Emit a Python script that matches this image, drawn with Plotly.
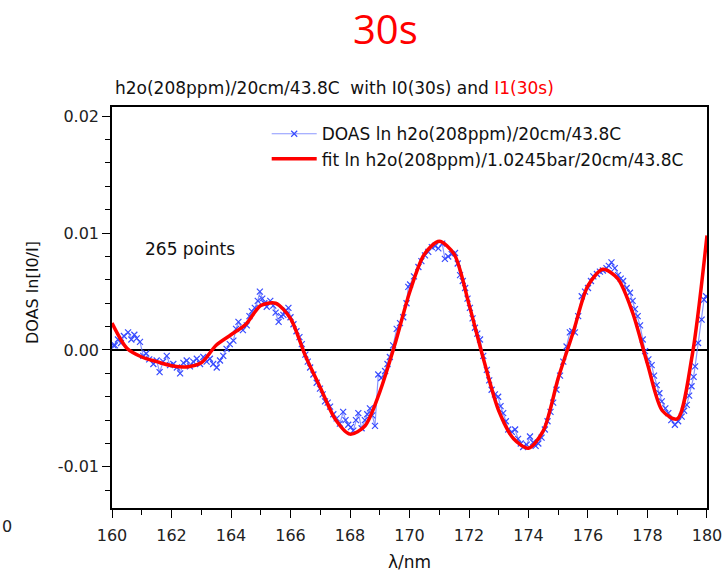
import numpy as np
import plotly.graph_objects as go

# ---- data (values in units of 1e-3) ----
fit_wl = [160.0, 160.5, 161.0, 161.5, 162.0, 162.5, 163.0, 163.5, 164.0, 164.5,
          165.0, 165.5, 166.0, 166.5, 167.0, 167.5, 168.0, 168.5, 169.0, 169.5,
          170.0, 170.5, 171.0, 171.5, 172.0, 172.5, 173.0, 173.5, 174.0, 174.5,
          175.0, 175.5, 176.0, 176.5, 177.0, 177.5, 178.0, 178.5, 179.0, 179.5, 180.0]
fit_val = [2.3, 0.15, -0.6, -1.0, -1.35, -1.45, -1.1, 0.4, 1.3, 2.2,
           3.8, 4.0, 2.7, -0.5, -3.2, -5.9, -7.2, -6.5, -3.6, 0.4,
           4.9, 8.2, 9.3, 8.2, 3.9, -0.9, -5.2, -7.6, -8.4, -6.9,
           -2.4, 1.5, 5.5, 6.9, 6.1, 3.2, -1.2, -5.2, -5.9, -0.5, 9.8]

doas_wl = [160.05, 160.1, 160.2, 160.3, 160.4, 160.54, 160.65, 160.75, 160.83, 160.94,
           161.05, 161.15, 161.25, 161.39, 161.5, 161.6, 161.72, 161.84, 161.95, 162.06,
           162.18, 162.29, 162.4, 162.51, 162.62, 162.73, 162.85, 162.96, 163.07, 163.18,
           163.29, 163.4, 163.52, 163.63, 163.74, 163.85, 163.96, 164.08, 164.17, 164.25,
           164.4, 164.53, 164.62, 164.7, 164.8, 164.9, 164.97, 165.05, 165.12, 165.2,
           165.32, 165.42, 165.5, 165.6, 165.68, 165.76, 165.85, 165.93, 166.0, 166.1,
           166.2, 166.3, 166.38, 166.5, 166.58, 166.66, 166.77, 166.88, 166.99, 167.08,
           167.16, 167.25, 167.33, 167.44, 167.55, 167.66, 167.77, 167.85, 167.94, 168.03,
           168.11, 168.2, 168.28, 168.39, 168.5, 168.58, 168.67, 168.75, 168.84, 168.95,
           169.05, 169.18, 169.26, 169.34, 169.45, 169.57, 169.68, 169.79, 169.9, 169.96,
           170.02, 170.15, 170.3, 170.4, 170.52, 170.63, 170.75, 170.86, 170.97, 171.1,
           171.19, 171.3, 171.42, 171.53, 171.62, 171.7, 171.79, 171.87, 171.95, 172.03,
           172.12, 172.2, 172.28, 172.37, 172.48, 172.6, 172.68, 172.76, 172.87, 172.98,
           173.06, 173.15, 173.24, 173.32, 173.44, 173.55, 173.65, 173.74, 173.82, 173.94,
           174.05, 174.15, 174.24, 174.33, 174.44, 174.55, 174.64, 174.74, 174.83, 174.94,
           175.06, 175.17, 175.28, 175.39, 175.47, 175.56, 175.67, 175.79, 175.9, 176.0,
           176.1, 176.18, 176.3, 176.4, 176.5, 176.62, 176.7, 176.79, 176.9, 177.01,
           177.1, 177.18, 177.3, 177.41, 177.5, 177.58, 177.67, 177.75, 177.84, 177.92,
           178.03, 178.14, 178.22, 178.31, 178.4, 178.48, 178.6, 178.7, 178.8, 178.92,
           179.03, 179.15, 179.23, 179.32, 179.4, 179.48, 179.55, 179.6, 179.7, 179.82,
           179.9, 179.97]
doas_val = [0.4, 0.4, 0.9, 0.6, 1.2, 1.5, 0.9, 1.3, 1.0, 0.7,
            -0.5, -0.3, -0.8, -1.2, -0.9, -1.9, -1.0, -0.5, -1.3, -1.2,
            -1.5, -2.0, -1.1, -0.9, -1.4, -1.0, -0.75, -1.2, -0.6, -1.0,
            -0.75, -1.2, -1.5, -0.9, -0.5, 0.1, 0.5, 0.8, 1.8, 2.4,
            1.7, 2.1, 2.9, 3.3, 3.6, 4.2, 5.0, 4.4, 4.0, 3.7,
            4.2, 3.8, 3.2, 2.4, 2.9, 3.0, 3.4, 3.6, 2.8, 2.2,
            1.6, 1.1, 0.5, -0.4, -1.0, -1.5, -2.1, -2.8, -3.3, -3.8,
            -4.4, -4.5, -4.85, -5.5, -5.85, -6.3, -5.3, -6.0, -6.4, -6.6,
            -6.9, -6.0, -5.4, -6.7, -6.0, -5.5, -5.0, -5.6, -6.5, -2.1,
            -2.4, -1.8, -1.2, -0.6, 0.4, 1.8, 2.3, 2.8, 4.0, 5.4,
            5.6, 6.3, 7.1, 7.6, 8.1, 8.4, 8.8, 8.9, 8.7, 9.1,
            7.8, 8.0, 8.2, 8.3, 7.4, 6.4, 5.9, 5.3, 4.4, 3.6,
            2.7, 1.9, 1.4, 0.9, -0.5, -1.7, -2.6, -3.4, -3.8, -4.0,
            -4.8, -5.4, -6.1, -6.8, -7.0, -6.8, -7.6, -8.0, -8.3, -8.1,
            -7.4, -7.9, -8.2, -8.0, -7.5, -6.8, -6.1, -5.3, -4.5, -3.4,
            -2.2, -1.0, 0.3, 1.5, 1.6, 1.5, 2.9, 4.6, 5.0, 5.3,
            5.9, 6.3, 6.5, 6.7, 6.8, 7.0, 7.2, 7.5, 7.0, 6.4,
            6.1, 5.9, 5.3, 4.9, 4.2, 3.5, 2.9, 2.1, 0.9, -0.1,
            -0.8, -1.3, -2.2, -3.0, -3.7, -4.4, -5.0, -5.4, -6.0, -6.4,
            -6.1, -5.7, -5.2, -4.7, -3.9, -3.1, -2.3, -1.4, 0.6, 2.6,
            4.3, 4.6]

x_ticks = [160, 162, 164, 166, 168, 170, 172, 174, 176, 178, 180]
y_ticks = [-0.01, 0.00, 0.01, 0.02]
y_tick_text = ["-0.01", "0.00", "0.01", "0.02"]

FONT = "DejaVu Sans"

fig = go.Figure()
fig.add_trace(go.Scatter(
    x=doas_wl, y=[v * 1e-3 for v in doas_val],
    mode="lines+markers",
    name="DOAS ln h2o(208ppm)/20cm/43.8C",
    line=dict(color="rgba(110,125,255,0.8)", width=1.2),
    marker=dict(symbol="x-thin", size=6, line=dict(width=1.2, color="rgb(55,75,255)")),
))
fig.add_trace(go.Scatter(
    x=fit_wl, y=[v * 1e-3 for v in fit_val],
    mode="lines",
    name="fit ln h2o(208ppm)/1.0245bar/20cm/43.8C",
    line=dict(color="#ff0000", width=3.5, shape="spline", smoothing=0.8),
))

axis_common = dict(
    showline=True, linecolor="black", linewidth=1.5, mirror=True, automargin=False,
    showgrid=False, ticks="outside", ticklen=8, tickwidth=1.2, tickcolor="black",
    tickfont=dict(family=FONT, size=16, color="#222"),
)
fig.update_xaxes(range=[159.9995, 180.0005], tickvals=x_ticks, zeroline=False,
                 ticklabeloverflow="allow", ticklabelstandoff=4,
                 minor=dict(tickvals=list(range(161, 180, 2)), ticks="outside", ticklen=5,
                            tickcolor="black", showgrid=False),
                 **axis_common)
fig.update_yaxes(range=[-0.01352, 0.02079], tickvals=y_ticks, ticktext=y_tick_text,
                 zeroline=True, zerolinecolor="black", zerolinewidth=1.5,
                 minor=dict(dtick=0.002, tick0=0, ticks="outside", ticklen=5, tickcolor="black", showgrid=False),
                 **axis_common)

ann = [
    dict(text="30s", x=0.4605, y=1.197, xref="paper", yref="paper", xanchor="center", yanchor="middle",
         showarrow=False, font=dict(family="Open Sans", size=40, color="#ff0000")),
    dict(text="h2o(208ppm)/20cm/43.8C&nbsp;&nbsp;with I0(30s) and <span style='color:#ff0000'>I1(30s)</span>",
         x=0.0017, y=1.047, xref="paper", yref="paper", xanchor="left", yanchor="middle",
         showarrow=False, font=dict(family=FONT, size=17, color="#111")),
    dict(text="265 points", x=0.052, y=0.646, xref="paper", yref="paper", xanchor="left", yanchor="middle",
         showarrow=False, font=dict(family=FONT, size=17, color="#111")),
    dict(text="DOAS ln[I0/I]", x=-0.1328, y=0.5387, xref="paper", yref="paper", xanchor="center", yanchor="middle",
         textangle=-90, showarrow=False, font=dict(family=FONT, size=16, color="#111")),
    dict(text="λ/nm", x=0.5008, y=-0.1347, xref="paper", yref="paper", xanchor="center", yanchor="middle",
         showarrow=False, font=dict(family=FONT, size=17, color="#111")),
    dict(text="0", x=-0.188, y=-0.047, xref="paper", yref="paper", xanchor="left", yanchor="middle",
         showarrow=False, font=dict(family=FONT, size=16, color="#222")),
]

fig.update_layout(
    width=722, height=574, autosize=False,
    margin=dict(l=112, r=15, t=107, b=66),
    paper_bgcolor="white", plot_bgcolor="white",
    showlegend=True,
    legend=dict(x=0.26, y=0.977, xanchor="left", yanchor="top", bgcolor="rgba(0,0,0,0)",
                font=dict(family=FONT, size=17, color="#111"), itemwidth=45,
                tracegroupgap=0),
    annotations=ann,
)

fig.write_html("out.html")
